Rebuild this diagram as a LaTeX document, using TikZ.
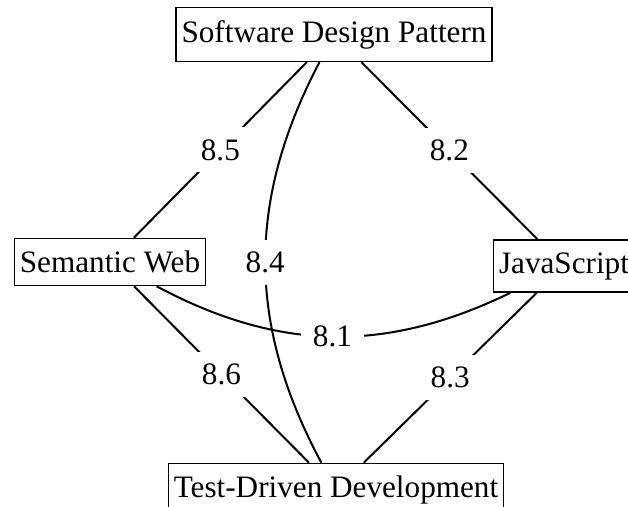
\documentclass[tikz,border=0pt]{standalone}
\usepackage{fontspec}
\setmainfont{Liberation Serif}
\begin{document}
\begin{tikzpicture}[x=1pt,y=-1pt,
  topic/.style={draw, line width=1.4pt, inner xsep=5.5pt, inner ysep=12.5pt,
    font=\fontsize{31.2pt}{36pt}\selectfont},
  weight/.style={fill=white, inner sep=12pt, font=\fontsize{31.2pt}{36pt}\selectfont},
  link/.style={line width=2pt}]
\useasboundingbox (0,0) rectangle (628,506);
% topics
\node[topic] (sdp) at (334,34.5) {Software Design Pattern};
\node[topic] (sw) at (110,262) {Semantic Web};
\node[topic] (js) at (564,266) {JavaScript};
\node[topic] (tdd) at (336,490) {Test-Driven Development};
% weighted links
\draw[link] (sw) to[bend right=27] node[weight] {8.1} (js);
\draw[link] (sdp) -- node[weight] {8.2} (js);
\draw[link] (js) -- node[weight] {8.3} (tdd);
\draw[link] (sdp) to[bend right=28] node[weight] {8.4} (tdd);
\draw[link] (sdp) -- node[weight] {8.5} (sw);
\draw[link] (sw) -- node[weight] {8.6} (tdd);
\end{tikzpicture}
\end{document}
